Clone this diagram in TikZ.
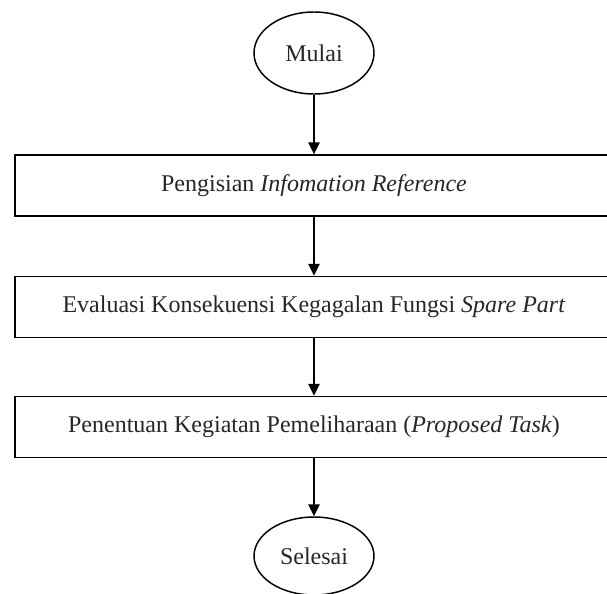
\documentclass[tikz,border=0pt]{standalone}
\usepackage{fontspec}
\setmainfont{Liberation Serif}
\usetikzlibrary{shapes.geometric,arrows.meta}
\begin{document}
\begin{tikzpicture}[x=0.75pt,y=-0.75pt,
  every node/.style={font=\fontsize{18}{21}\selectfont, text=black!85},
  terminal/.style={draw, ellipse, line width=1.1pt, minimum width=90pt, minimum height=61.5pt, inner sep=0pt},
  process/.style={draw, rectangle, line width=1.1pt, minimum width=448.5pt, minimum height=45.75pt, inner sep=0pt},
  flow/.style={draw, line width=1.1pt, -{Triangle[width=8.5pt,length=9pt]}}]
  \useasboundingbox (0,0) rectangle (607,593);
  \node[terminal] (start) at (314,53) {Mulai};
  \node[process] (info) at (314,185.5) {Pengisian \textit{Infomation Reference}};
  \node[process] (eval) at (314,307) {Evaluasi Konsekuensi Kegagalan Fungsi \textit{Spare Part}};
  \node[process] (task) at (314,427) {Penentuan Kegiatan Pemeliharaan (\textit{Proposed Task})};
  \node[terminal, minimum height=58.5pt] (stop) at (314,556) {Selesai};
  \draw[flow] (start) -- (info);
  \draw[flow] (info) -- (eval);
  \draw[flow] (eval) -- (task);
  \draw[flow] (task) -- (stop);
\end{tikzpicture}
\end{document}
